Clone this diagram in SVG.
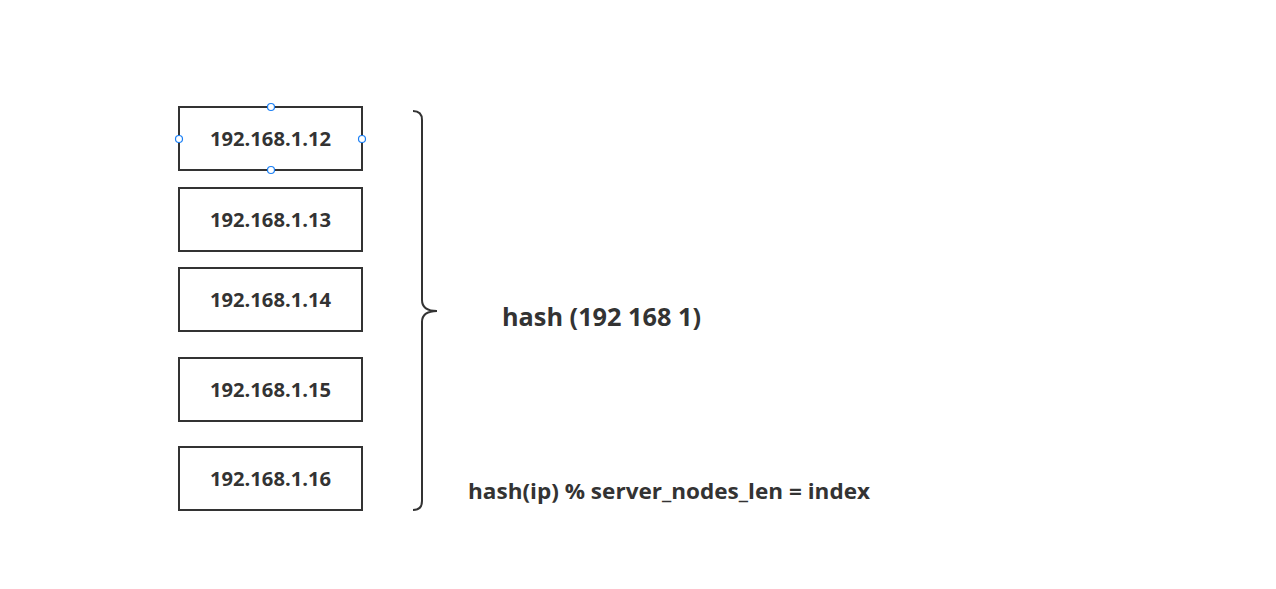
<svg xmlns="http://www.w3.org/2000/svg" width="1276" height="589" viewBox="0 0 1276 589">
<style>
.box{fill:#fff;stroke:#333;stroke-width:2}
.lbl{font-family:"Open Sans","Noto Sans","Liberation Sans",sans-serif;font-weight:bold;font-size:19.5px;fill:#333;text-anchor:middle}
.txt{font-family:"Open Sans","Noto Sans","Liberation Sans",sans-serif;font-weight:bold;fill:#333}
.h{fill:#fff;stroke:#1a7ff5;stroke-width:1.2}
</style>
<rect width="1276" height="589" fill="#fff"/>
<g id="n1"><rect class="box" x="179" y="107" width="183" height="63"/><text class="lbl" x="270.5" y="146" textLength="121" lengthAdjust="spacingAndGlyphs">192.168.1.12</text></g>
<g id="n2"><rect class="box" x="179" y="188" width="183" height="63"/><text class="lbl" x="270.5" y="227" textLength="121" lengthAdjust="spacingAndGlyphs">192.168.1.13</text></g>
<g id="n3"><rect class="box" x="179" y="268" width="183" height="63"/><text class="lbl" x="270.5" y="307" textLength="121" lengthAdjust="spacingAndGlyphs">192.168.1.14</text></g>
<g id="n4"><rect class="box" x="179" y="358" width="183" height="63"/><text class="lbl" x="270.5" y="397" textLength="121" lengthAdjust="spacingAndGlyphs">192.168.1.15</text></g>
<g id="n5"><rect class="box" x="179" y="447" width="183" height="63"/><text class="lbl" x="270.5" y="486" textLength="121" lengthAdjust="spacingAndGlyphs">192.168.1.16</text></g>
<g id="handles">
<circle class="h" cx="271" cy="107" r="3.5"/><circle class="h" cx="179" cy="139" r="3.5"/><circle class="h" cx="362" cy="139" r="3.5"/><circle class="h" cx="271" cy="170" r="3.5"/>
</g>
<g id="brace"><path d="M413,111 Q422,111 422,120 L422,300 Q422,311 437,311 Q422,311 422,322 L422,501 Q422,510 413,510" fill="none" stroke="#333" stroke-width="2"/></g>
<g id="labels">
<text class="txt" x="502" y="326" font-size="24.5" textLength="199" lengthAdjust="spacingAndGlyphs">hash (192 168 1)</text>
<text class="txt" x="468" y="499" font-size="21.5" textLength="402" lengthAdjust="spacingAndGlyphs">hash(ip) % server_nodes_len = index</text>
</g>
</svg>
